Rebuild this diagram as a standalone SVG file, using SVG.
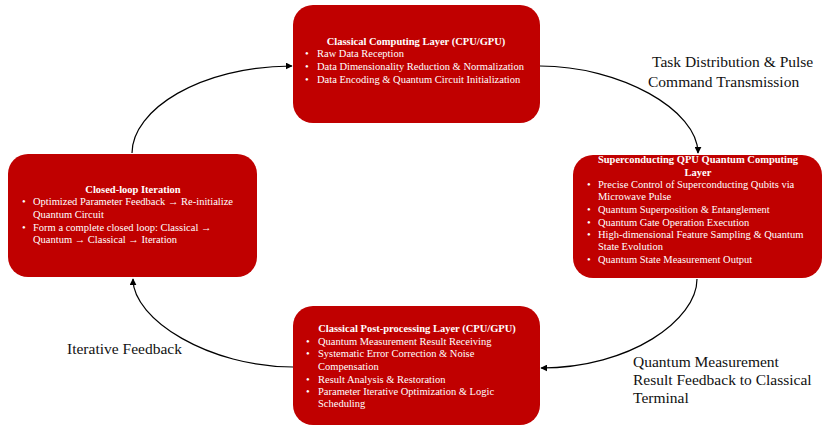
<svg xmlns="http://www.w3.org/2000/svg" width="833" height="430" viewBox="0 0 833 430">
<defs>
<marker id="arr" viewBox="0 0 10 10" refX="9" refY="5" markerWidth="7" markerHeight="7" orient="auto" markerUnits="userSpaceOnUse">
<path d="M0,0 L10,5 L0,10 z" fill="#000"/>
</marker>
<style>
.box{fill:#C00000;}
.t{font-family:"Liberation Serif","Times New Roman",serif;font-size:10.5px;fill:#fff;}
.h{font-weight:bold;text-anchor:middle;}
.lbl{font-family:"Liberation Serif","Times New Roman",serif;font-size:15.5px;fill:#111;}
.c{fill:none;stroke:#000;stroke-width:1.2;marker-end:url(#arr);}
</style>
</defs>
<rect width="833" height="430" fill="#fff"/>
<g id="connectors">
<path class="c" d="M132,153 C132,110 200,66 292,66"/>
<path class="c" d="M540,66 C620,66 698,110 698,153"/>
<path class="c" d="M697,279 C697,320 630,368 541,368"/>
<path class="c" d="M293,367 C210,367 133,320 133,279"/>
</g>
<g id="top">
<rect class="box" x="293" y="5" width="247" height="118" rx="20"/>
<text class="t h" x="416" y="45">Classical Computing Layer (CPU/GPU)</text>
<text class="t" x="305" y="57">•</text><text class="t" x="317" y="57">Raw Data Reception</text>
<text class="t" x="305" y="70">•</text><text class="t" x="317" y="70">Data Dimensionality Reduction &amp; Normalization</text>
<text class="t" x="305" y="83">•</text><text class="t" x="317" y="83">Data Encoding &amp; Quantum Circuit Initialization</text>
</g>
<g id="right">
<rect class="box" x="573" y="155" width="249" height="123" rx="20"/>
<text class="t h" x="698" y="163">Superconducting QPU Quantum Computing</text>
<text class="t h" x="698" y="176">Layer</text>
<text class="t" x="587" y="188">•</text><text class="t" x="598" y="188">Precise Control of Superconducting Qubits via</text>
<text class="t" x="598" y="200">Microwave Pulse</text>
<text class="t" x="587" y="213">•</text><text class="t" x="598" y="213">Quantum Superposition &amp; Entanglement</text>
<text class="t" x="587" y="226">•</text><text class="t" x="598" y="226">Quantum Gate Operation Execution</text>
<text class="t" x="587" y="238">•</text><text class="t" x="598" y="238">High-dimensional Feature Sampling &amp; Quantum</text>
<text class="t" x="598" y="250">State Evolution</text>
<text class="t" x="587" y="263">•</text><text class="t" x="598" y="263">Quantum State Measurement Output</text>
</g>
<g id="left">
<rect class="box" x="8" y="154" width="249" height="123" rx="20"/>
<text class="t h" x="133" y="193">Closed-loop Iteration</text>
<text class="t" x="22" y="205">•</text><text class="t" x="33" y="205">Optimized Parameter Feedback → Re-initialize</text>
<text class="t" x="33" y="218">Quantum Circuit</text>
<text class="t" x="22" y="231">•</text><text class="t" x="33" y="231">Form a complete closed loop: Classical →</text>
<text class="t" x="33" y="243">Quantum → Classical → Iteration</text>
</g>
<g id="bottom">
<rect class="box" x="293" y="306" width="247" height="119" rx="20"/>
<text class="t h" x="417" y="332">Classical Post-processing Layer (CPU/GPU)</text>
<text class="t" x="306" y="345">•</text><text class="t" x="318" y="345">Quantum Measurement Result Receiving</text>
<text class="t" x="306" y="357">•</text><text class="t" x="318" y="357">Systematic Error Correction &amp; Noise</text>
<text class="t" x="318" y="370">Compensation</text>
<text class="t" x="306" y="383">•</text><text class="t" x="318" y="383">Result Analysis &amp; Restoration</text>
<text class="t" x="306" y="395">•</text><text class="t" x="318" y="395">Parameter Iterative Optimization &amp; Logic</text>
<text class="t" x="318" y="407">Scheduling</text>
</g>
<g id="labels">
<text class="lbl" x="652" y="67">Task Distribution &amp; Pulse</text>
<text class="lbl" x="648" y="87">Command Transmission</text>
<text class="lbl" x="633" y="367">Quantum Measurement</text>
<text class="lbl" x="633" y="385">Result Feedback to Classical</text>
<text class="lbl" x="633" y="403">Terminal</text>
<text class="lbl" x="67" y="354">Iterative Feedback</text>
</g>
</svg>
